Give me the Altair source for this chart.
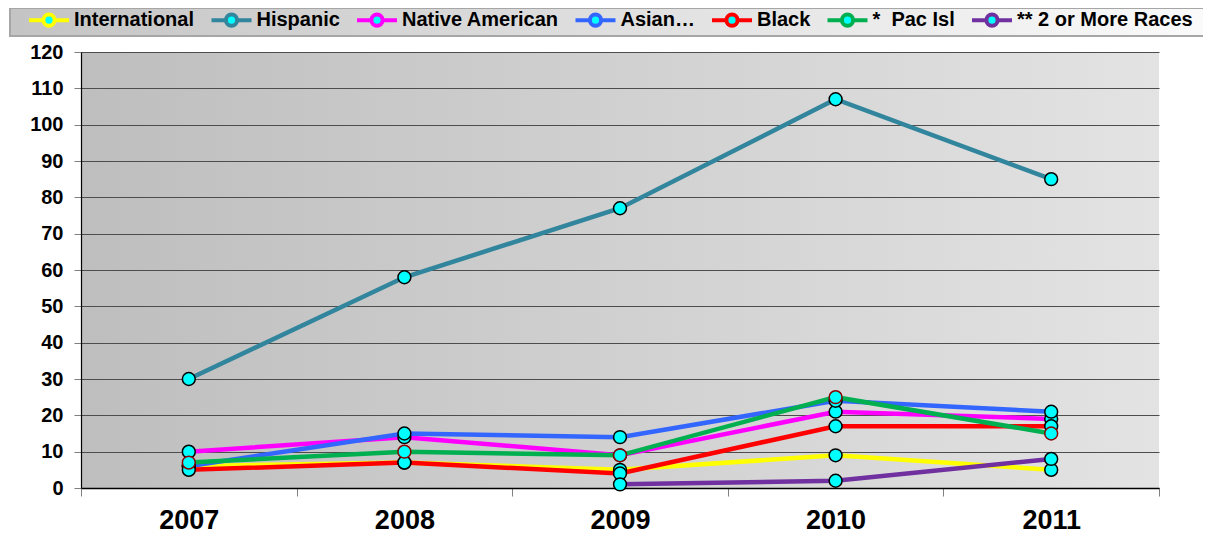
import altair as alt
import pandas as pd

years = ["2007", "2008", "2009", "2010", "2011"]
series_names = ["International", "Hispanic", "Native American", "Asian\u2026",
                "Black", "*\u00a0 Pac Isl", "** 2 or More Races"]
series_colors = ["#FFFF00", "#31859C", "#FF00FF", "#3366FF", "#FF0000", "#00B050", "#7030A0"]

international = [6, 7, 5, 9, 5]
hispanic = [30, 58, 77, 107, 85]
native_american = [10, 14, 9, 21, 19]
asian = [6, 15, 14, 24, 21]
black = [5, 7, 4, 17, 17]
pac_isl = [7, 10, 9, 25, 15]
two_or_more = [None, None, 1, 2, 8]

y_ticks = list(range(0, 121, 10))

rows = []
for name, vals in zip(series_names, [international, hispanic, native_american, asian,
                                     black, pac_isl, two_or_more]):
    for yr, v in zip(years, vals):
        if v is not None:
            rows.append({"year": yr, "series": name, "value": v})
df = pd.DataFrame(rows)

FONT = "Liberation Sans"
legend_symbol = ("M-1,0L-0.28,0M0.28,0L1,0"
                 "M0.28,0A0.28,0.28,0,1,1,-0.28,0A0.28,0.28,0,1,1,0.28,0Z")

x_enc = alt.X(
    "year:O",
    scale=alt.Scale(type="band", paddingInner=0, paddingOuter=0),
    bandPosition=0.5,
    axis=alt.Axis(title=None, labelAngle=0, tickBand="extent", tickSize=8,
                  tickColor="#808080", domainColor="black", domainWidth=1.5,
                  labelFont=FONT, labelFontWeight="bold", labelFontSize=27,
                  labelColor="black", labelPadding=11, grid=False),
)
y_enc = alt.Y(
    "value:Q",
    scale=alt.Scale(domain=[0, 120], nice=False),
    axis=alt.Axis(title=None, values=y_ticks, grid=True, gridColor="#4d4d4d", gridWidth=1,
                  tickSize=7, tickColor="#808080", domainColor="black", domainWidth=1.2,
                  labelFont=FONT, labelFontWeight="bold", labelFontSize=20,
                  labelColor="black", labelPadding=11),
)

lines = alt.Chart(df).mark_line(strokeWidth=4.5).encode(
    x=x_enc,
    y=y_enc,
    color=alt.Color("series:N",
                    scale=alt.Scale(domain=series_names, range=series_colors),
                    legend=alt.Legend(orient="none", legendX=-54, legendY=-54,
                                      direction="horizontal", title=None,
                                      symbolType=legend_symbol, symbolSize=1600,
                                      symbolStrokeWidth=4, symbolFillColor="#00FFFF",
                                      symbolOpacity=1, labelOffset=3, columnPadding=8.5,
                                      labelLimit=400, padding=0, labelFont=FONT,
                                      labelFontWeight="bold", labelFontSize=20,
                                      labelColor="black")),
)

points = alt.Chart(df).mark_point(filled=True, fill="#00FFFF", opacity=1,
                                  strokeWidth=1.5, size=165, shape="circle").encode(
    x=x_enc,
    y=y_enc,
    stroke=alt.condition(alt.datum.series == "*\u00a0 Pac Isl",
                         alt.value("#8B0000"), alt.value("black")),
)

legend_bar = alt.Chart(pd.DataFrame({"k": [0]})).mark_rect(
    fill=alt.LinearGradient(gradient="linear", x1=0, x2=1, y1=0, y2=0,
                            stops=[alt.GradientStop(color="#c4c4c4", offset=0),
                                   alt.GradientStop(color="#fafafa", offset=1)]),
    stroke="#a6a6a6", strokeWidth=2,
).encode(x=alt.value(-71), x2=alt.value(1125), y=alt.value(-44), y2=alt.value(-16))

chart = alt.layer(legend_bar, lines, points).properties(
    width=1078, height=436,
    autosize=alt.AutoSizeParams(type="none"),
    padding={"left": 73, "top": 44, "right": 44, "bottom": 48},
).configure_view(
    strokeWidth=0,
    fill={"expr": "{gradient: 'linear', x1: 0, y1: 0, x2: 1, y2: 0, stops: [{offset: 0, color: '#bebebe'}, {offset: 1, color: '#e3e3e3'}]}"},
)

chart.save("out.html", embed_options={"renderer": "svg", "actions": False})
